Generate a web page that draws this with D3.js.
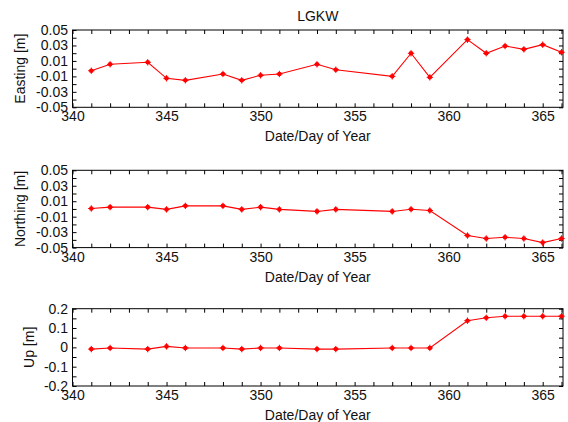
<!DOCTYPE html>
<html>
<head>
<meta charset="utf-8">
<script src="https://cdn.jsdelivr.net/npm/d3@7"></script>
<style>
html,body{margin:0;padding:0;background:#fff;}
text{font-family:"Liberation Sans",Arial,sans-serif;}
</style>
</head>
<body>
<svg id="chart" width="568" height="422"></svg>
<script>
// ---- data ----
const days = [341,342,344,345,346,348,349,350,351,353,354,357,358,359,361,362,363,364,365,366];
const easting  = [-0.0027,0.0056,0.0082,-0.0125,-0.0151,-0.0069,-0.0151,-0.0086,-0.0069,0.0056,-0.0014,-0.0099,0.0199,-0.0112,0.0375,0.0199,0.0293,0.0250,0.0310,0.0212];
const northing = [0.0006,0.0023,0.0023,-0.0006,0.0040,0.0040,-0.0006,0.0023,-0.0006,-0.0032,-0.0006,-0.0032,-0.0003,-0.0020,-0.0344,-0.0383,-0.0366,-0.0383,-0.0435,-0.0383];
const up       = [-0.009,-0.003,-0.009,0.005,-0.003,-0.003,-0.009,-0.003,-0.003,-0.009,-0.009,-0.003,-0.003,-0.003,0.138,0.153,0.161,0.161,0.161,0.161];
const xTicks = [340,341,342,343,344,345,346,347,348,349,350,351,352,353,354,355,356,357,358,359,360,361,362,363,364,365,366];
const xTickLabels = [340,345,350,355,360,365];
const enTicks = [-0.05,-0.04,-0.03,-0.02,-0.01,0,0.01,0.02,0.03,0.04,0.05];
const enTickLabels = [-0.05,-0.03,-0.01,0.01,0.03,0.05];
const upTicks = [-0.2,-0.15,-0.1,-0.05,0,0.05,0.1,0.15,0.2];
const upTickLabels = [-0.2,-0.1,0,0.1,0.2];
const title = "LGKW";
const xLabel = "Date/Day of Year";

const panels = [
  {label:"Easting [m]", values:easting, domain:[-0.05,0.05], ticks:enTicks, labels:enTickLabels, top:30, ylabX:20},
  {label:"Northing [m]", values:northing, domain:[-0.05,0.05], ticks:enTicks, labels:enTickLabels, top:170.3, ylabX:20},
  {label:"Up [m]", values:up, domain:[-0.2,0.2], ticks:upTicks, labels:upTickLabels, top:308.7, ylabX:29}
];

const svg = d3.select("#chart");
const left = 72.5, right = 563, height = 77.3;
const x = d3.scaleLinear().domain([340, 366.08]).range([left, right]);
const fmt = v => {
  const r = Math.round(v*1000)/1000;
  if (r === 0) return "0";
  return String(r).replace("\u2212","-");
};
const isLabel = (arr, v) => arr.some(a => Math.abs(a - v) < 1e-9);
const red = "#ff0000";

svg.append("text").attr("x", (left+right)/2).attr("y", 21)
  .attr("text-anchor","middle").attr("font-size",14).attr("fill","#111").text(title);

panels.forEach(p => {
  const top = p.top, bottom = top + height;
  const y = d3.scaleLinear().domain(p.domain).range([bottom, top]);
  const g = svg.append("g");

  const xb = d3.axisBottom(x).tickValues(xTicks).tickSizeInner(-4).tickSizeOuter(0).tickPadding(4)
    .tickFormat(v => isLabel(xTickLabels, v) ? String(v) : "");
  const xt = d3.axisTop(x).tickValues(xTicks).tickSizeInner(-4).tickSizeOuter(0).tickFormat("");
  const yl = d3.axisLeft(y).tickValues(p.ticks).tickSizeInner(-4).tickSizeOuter(0).tickPadding(4.5)
    .tickFormat(v => isLabel(p.labels, v) ? fmt(v) : "");
  const yr = d3.axisRight(y).tickValues(p.ticks).tickSizeInner(-4).tickSizeOuter(0).tickFormat("");

  [ [xb, `translate(0,${bottom})`], [xt, `translate(0,${top})`], [yl, `translate(${left},0)`], [yr, `translate(${right},0)`] ]
    .forEach(([ax, tr]) => {
      const a = g.append("g").attr("transform", tr).call(ax);
      a.select(".domain").remove();
      a.selectAll("line").attr("stroke","#000").attr("stroke-width",1);
      a.selectAll("text").attr("font-size",14).attr("font-family","Liberation Sans, Arial, sans-serif").attr("fill","#111");
    });

  g.append("rect").attr("x", left).attr("y", top).attr("width", right-left).attr("height", height)
    .attr("fill","none").attr("stroke","#000").attr("stroke-width",1);

  const pts = days.map((d,i) => [d, p.values[i]]);
  g.append("path").datum(pts)
    .attr("d", d3.line().x(d => x(d[0])).y(d => y(d[1])))
    .attr("fill","none").attr("stroke",red).attr("stroke-width",1.1);
  const m = g.selectAll(".mk").data(pts).enter().append("g")
    .attr("transform", d => `translate(${x(d[0])},${y(d[1])})`);
  m.append("circle").attr("r",2.3).attr("fill",red);
  m.append("path").attr("d","M-3.2,0H3.2M0,-3.2V3.2").attr("stroke",red).attr("stroke-width",1);

  svg.append("text").attr("x", (left+right)/2).attr("y", bottom+34)
    .attr("text-anchor","middle").attr("font-size",14).attr("fill","#111").text(xLabel);
  svg.append("text").attr("transform", `translate(${p.ylabX},${(top+bottom)/2}) rotate(-90)`)
    .attr("text-anchor","middle").attr("dy","0.35em").attr("font-size",14).attr("fill","#111").text(p.label);
});
</script>
</body>
</html>
